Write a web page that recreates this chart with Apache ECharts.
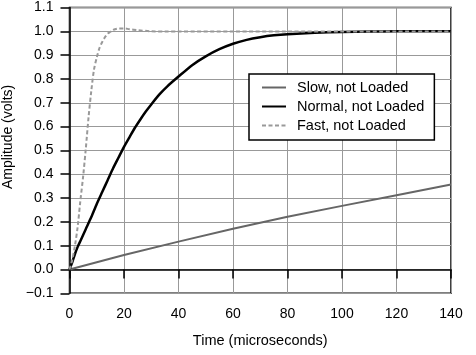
<!DOCTYPE html>
<html>
<head>
<meta charset="utf-8">
<script src="https://cdn.jsdelivr.net/npm/echarts@6/dist/echarts.min.js"></script>
<style>html,body{margin:0;padding:0;background:#fff;}#c{width:476px;height:355px;}</style>
</head>
<body>
<div id="c"></div>
<script>
var seriesNames = ['Slow, not Loaded', 'Normal, not Loaded', 'Fast, not Loaded'];
var slowTime = [0, 20, 40, 60, 80, 100, 120, 140];
var slowValues = [0, 0.061, 0.117, 0.171, 0.221, 0.267, 0.312, 0.357];
var normalTime = [0, 1, 2, 3, 4, 6, 8, 10, 12, 14, 16, 18, 20, 22, 24, 26, 28, 30, 33, 36, 40, 45, 50, 55, 60, 65, 70, 75, 80, 90, 100, 110, 120, 130, 140];
var normalValues = [0, 0.03, 0.065, 0.095, 0.12, 0.17, 0.22, 0.275, 0.325, 0.375, 0.425, 0.47, 0.515, 0.555, 0.595, 0.63, 0.663, 0.693, 0.735, 0.77, 0.81, 0.858, 0.895, 0.925, 0.948, 0.964, 0.975, 0.983, 0.988, 0.994, 0.997, 0.999, 1.0, 1.0, 1.0];
var fastTime = [0, 1, 2, 3, 4, 5, 6, 7, 8, 9, 10, 11, 12, 13, 14, 15, 16, 17, 18, 20, 22, 25, 30, 35, 40, 60, 80, 100, 120, 140];
var fastValues = [0, 0.04, 0.1, 0.18, 0.29, 0.39, 0.51, 0.64, 0.75, 0.84, 0.89, 0.93, 0.955, 0.975, 0.99, 0.998, 1.006, 1.01, 1.012, 1.012, 1.009, 1.005, 1.0, 0.999, 0.999, 0.999, 0.999, 0.999, 0.999, 0.999];
var xTicks = {min: 0, max: 140, interval: 20};
var yTicks = {min: -0.1, max: 1.1, interval: 0.1};

function pairs(t, v) { return t.map(function (x, i) { return [x, v[i]]; }); }

var font = 'Liberation Sans, Arial, Helvetica, sans-serif';
var chart = echarts.init(document.getElementById('c'), null, {renderer: 'canvas'});
chart.setOption({
  animation: false,
  backgroundColor: '#fff',
  grid: {left: 69.5, right: 25, top: 7.5, bottom: 61.7, containLabel: false, outerBoundsMode: 'none',
    show: true, borderColor: '#000', borderWidth: 1.5, backgroundColor: 'transparent'},
  legend: {
    data: seriesNames,
    orient: 'vertical',
    left: 249, top: 74,
    padding: [6, 10, 7, 12],
    itemWidth: 24, itemHeight: 14, itemGap: 4,
    itemStyle: {opacity: 0},
    backgroundColor: '#fff',
    borderColor: '#000', borderWidth: 1.5, borderRadius: 0,
    textStyle: {fontFamily: font, fontSize: 14.5, color: '#000', padding: [0, 0, 0, 6]}
  },
  xAxis: {
    type: 'value', min: xTicks.min, max: xTicks.max, interval: xTicks.interval,
    name: 'Time (microseconds)', nameLocation: 'middle', nameGap: 40,
    nameTextStyle: {fontFamily: font, fontSize: 14.5, color: '#000'},
    axisLine: {lineStyle: {color: '#000', width: 1.5}},
    axisTick: {inside: false, length: 9, lineStyle: {color: '#000', width: 1.5}},
    axisLabel: {fontFamily: font, fontSize: 14, color: '#000', margin: 14},
    splitLine: {show: true, lineStyle: {color: '#999', width: 1}}
  },
  yAxis: {
    type: 'value', min: yTicks.min, max: yTicks.max, interval: yTicks.interval,
    name: 'Amplitude (volts)', nameLocation: 'middle', nameGap: 52,
    nameTextStyle: {fontFamily: font, fontSize: 14, color: '#000', padding: [0, 0, 0, 27]},
    axisLine: {show: true, lineStyle: {color: '#000', width: 1.5}},
    axisTick: {show: true, inside: false, length: 9, lineStyle: {color: '#000', width: 1.5}},
    axisLabel: {fontFamily: font, fontSize: 14, color: '#000', margin: 16,
      formatter: function (v) { var s = Math.abs(v).toFixed(1); return v < -1e-9 ? '\u2212' + s : s; }},
    splitLine: {show: true, lineStyle: {color: '#999', width: 1}}
  },
  series: [
    {name: seriesNames[0], type: 'line', symbol: 'none', data: pairs(slowTime, slowValues),
     lineStyle: {color: '#666', width: 2}, itemStyle: {color: '#666'}, z: 2},
    {name: seriesNames[1], type: 'line', symbol: 'none', smooth: 0.2, data: pairs(normalTime, normalValues),
     lineStyle: {color: '#000', width: 2.5}, itemStyle: {color: '#000'}, z: 3},
    {name: seriesNames[2], type: 'line', symbol: 'none', smooth: 0.3, data: pairs(fastTime, fastValues),
     lineStyle: {color: '#999', width: 2, type: [4, 2.5]}, itemStyle: {color: '#999'}, z: 4}
  ]
});
</script>
</body>
</html>
